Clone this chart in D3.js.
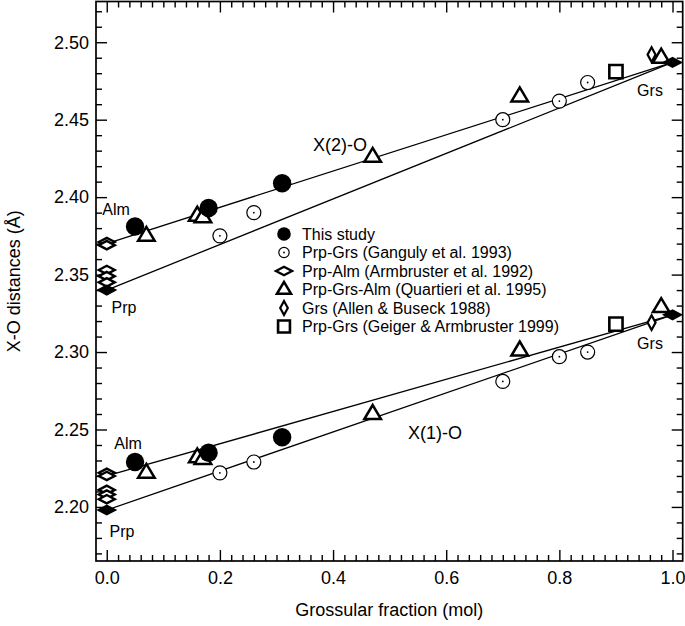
<!DOCTYPE html>
<html><head><meta charset="utf-8">
<script src="https://cdn.jsdelivr.net/npm/d3@7"></script>
<style>
body{margin:0;background:#fff}
svg{display:block}
text{font-family:"Liberation Sans",Arial,sans-serif;fill:#000}
</style>
</head><body>
<svg id="c" width="685" height="626"></svg>
<script>
// ---- tick labels ----
const xMajor = [0.0, 0.2, 0.4, 0.6, 0.8, 1.0];
const yMajor = [2.20, 2.25, 2.30, 2.35, 2.40, 2.45, 2.50];

// ---- series (x = grossular fraction, y = distance) ----
const thisStudyX  = [0.05, 0.18, 0.31];
const thisStudyX2 = [2.381, 2.393, 2.409];
const thisStudyX1 = [2.229, 2.235, 2.245];

const gangulyX  = [0.20, 0.26, 0.70, 0.80, 0.85];
const gangulyX2 = [2.375, 2.390, 2.450, 2.462, 2.474];
const gangulyX1 = [2.222, 2.229, 2.281, 2.297, 2.300];

const armbrusterX  = [0, 0, 0, 0, 0];
const armbrusterX2 = [2.371, 2.369, 2.353, 2.349, 2.345];
const armbrusterX1 = [2.222, 2.220, 2.211, 2.208, 2.205];

const quartieriX  = [0.07, 0.16, 0.17, 0.47, 0.73, 0.98];
const quartieriX2 = [2.375, 2.388, 2.387, 2.426, 2.465, 2.490];
const quartieriX1 = [2.222, 2.232, 2.231, 2.260, 2.301, 2.329];

const allenX  = [0.963];
const allenX2 = [2.492];
const allenX1 = [2.319];

const geigerX  = [0.90];
const geigerX2 = [2.481];
const geigerX1 = [2.318];

const endX  = [0, 1, 0, 1];            // Prp, Grs end-members
const endY  = [2.340, 2.487, 2.198, 2.324];

// fitted lines [x0,y0,x1,y1]
const lineX2upper = [0, 2.370, 1, 2.487];
const lineX2lower = [0, 2.340, 1, 2.487];
const lineX1upper = [0, 2.220, 1, 2.324];
const lineX1lower = [0, 2.198, 1, 2.324];

const legendLabels = [
  "This study",
  "Prp-Grs (Ganguly et al. 1993)",
  "Prp-Alm (Armbruster et al. 1992)",
  "Prp-Grs-Alm (Quartieri et al. 1995)",
  "Grs (Allen & Buseck 1988)",
  "Prp-Grs (Geiger & Armbruster 1999)"
];

// ---- layout ----
const L = 96, R = 682.7, T = 1.5, B = 561;
const svg = d3.select("#c");
const x = d3.scaleLinear().domain([-0.019, 1.018]).range([L, R]);
const y = d3.scaleLinear().domain([2.1651, 2.5263]).range([B, T]);

const xMinor = d3.range(0, 1.0001, 0.02).filter(v => xMajor.every(m => Math.abs(m - v) > 1e-6));
const yMinor = d3.range(2.17, 2.5255, 0.01).filter(v => yMajor.every(m => Math.abs(m - v) > 1e-6));

function axisG(axis, tx, ty) {
  const g = svg.append("g").attr("transform", `translate(${tx},${ty})`).call(axis);
  g.select(".domain").remove();
  g.selectAll("line").attr("stroke", "#000").attr("stroke-width", 1.4);
  g.selectAll("text").style("font-family", '"Liberation Sans",Arial,sans-serif').style("font-size", "18px").attr("fill", "#000");
  return g;
}
// bottom
axisG(d3.axisBottom(x).tickValues(xMajor).tickSize(-11).tickPadding(10).tickFormat(d3.format(".1f")), 0, B);
axisG(d3.axisBottom(x).tickValues(xMinor).tickSize(-6).tickFormat(""), 0, B);
// top
axisG(d3.axisTop(x).tickValues(xMajor).tickSize(-11).tickFormat(""), 0, T);
axisG(d3.axisTop(x).tickValues(xMinor).tickSize(-6).tickFormat(""), 0, T);
// left
axisG(d3.axisLeft(y).tickValues(yMajor).tickSize(-11).tickPadding(7).tickFormat(d3.format(".2f")), L, 0);
axisG(d3.axisLeft(y).tickValues(yMinor).tickSize(-6).tickFormat(""), L, 0);
// right
axisG(d3.axisRight(y).tickValues(yMajor).tickSize(-11).tickFormat(""), R, 0);
axisG(d3.axisRight(y).tickValues(yMinor).tickSize(-6).tickFormat(""), R, 0);

// frame
svg.append("rect").attr("x", L).attr("y", T).attr("width", R - L).attr("height", B - T)
  .attr("fill", "none").attr("stroke", "#000").attr("stroke-width", 1.7);

// axis titles
svg.append("text").attr("x", (L + R) / 2).attr("y", 616).attr("text-anchor", "middle")
  .style("font-size", "18px").text("Grossular fraction (mol)");
svg.append("text").attr("transform", `translate(20,${(T + B) / 2}) rotate(-90)`).attr("text-anchor", "middle")
  .style("font-size", "18px").text("X-O distances (Å)");

// lines
[lineX2upper, lineX2lower, lineX1upper, lineX1lower].forEach(l => {
  svg.append("line").attr("x1", x(l[0])).attr("y1", y(l[1])).attr("x2", x(l[2])).attr("y2", y(l[3]))
    .attr("stroke", "#000").attr("stroke-width", 1.3);
});

// marker shapes (local coordinates)
const shapes = {
  filledCircle: (s) => ({ type: "circle", r: 9.2 * s, fill: "#000", stroke: "none", sw: 0 }),
  openCircle: (s) => ({ type: "circle", r: 7 * s, fill: "#fff", stroke: "#000", sw: 1.2, dot: true }),
  wideDiamond: (s) => ({ type: "path", d: `M${-8*s},0L0,${-4.2*s}L${8*s},0L0,${4.2*s}Z`, fill: "#fff", stroke: "#000", sw: 2.4 }),
  filledDiamond: (s) => ({ type: "path", d: `M${-8*s},0L0,${-4.2*s}L${8*s},0L0,${4.2*s}Z`, fill: "#000", stroke: "#000", sw: 2.4 }),
  triangle: (s) => ({ type: "path", d: `M${-8.3*s},${5*s}L0,${-9*s}L${8.3*s},${5*s}Z`, fill: "#fff", stroke: "#000", sw: 2.5 }),
  tallDiamond: (s) => ({ type: "path", d: `M${-4*s},0L0,${-7.3*s}L${4*s},0L0,${7.3*s}Z`, fill: "#fff", stroke: "#000", sw: 2.2 }),
  square: (s) => ({ type: "path", d: `M${-6.6*s},${-6.6*s}H${6.6*s}V${6.6*s}H${-6.6*s}Z`, fill: "#fff", stroke: "#000", sw: 2.6 })
};

function drawMarker(kind, px, py, s) {
  const m = shapes[kind](s);
  const g = svg.append("g").attr("transform", `translate(${px},${py})`);
  if (m.type === "circle") {
    g.append("circle").attr("r", m.r).attr("fill", m.fill).attr("stroke", m.stroke).attr("stroke-width", m.sw);
    if (m.dot) g.append("circle").attr("r", 0.9).attr("fill", "#000");
  } else {
    g.append("path").attr("d", m.d).attr("fill", m.fill).attr("stroke", m.stroke)
      .attr("stroke-width", m.sw).attr("stroke-linejoin", "miter");
  }
}

function series(kind, xs, ys) {
  xs.forEach((v, i) => drawMarker(kind, x(v), y(ys[i]), 1));
}

series("wideDiamond", armbrusterX, armbrusterX2);
series("wideDiamond", armbrusterX, armbrusterX1);
series("openCircle", gangulyX, gangulyX2);
series("openCircle", gangulyX, gangulyX1);
series("triangle", quartieriX, quartieriX2);
series("triangle", quartieriX, quartieriX1);
series("square", geigerX, geigerX2);
series("square", geigerX, geigerX1);
series("tallDiamond", allenX, allenX2);
series("tallDiamond", allenX, allenX1);
series("filledCircle", thisStudyX, thisStudyX2);
series("filledCircle", thisStudyX, thisStudyX1);
series("filledDiamond", endX, endY);

// annotations
function label(t, px, py, size) {
  svg.append("text").attr("x", px).attr("y", py).attr("dy", "0.35em").attr("text-anchor", "middle")
    .style("font-size", size + "px").text(t);
}
label("X(2)-O", 340, 145, 18);
label("X(1)-O", 435, 433, 18);
label("Alm", 116, 209, 16);
label("Alm", 128, 443, 16);
label("Prp", 124, 307, 16);
label("Prp", 122, 531, 16);
label("Grs", 650, 90, 16);
label("Grs", 650, 343, 16);

// legend
const legendKinds = ["filledCircle", "openCircle", "wideDiamond", "triangle", "tallDiamond", "square"];
const legendScale = [0.74, 0.74, 1.0, 0.85, 0.95, 0.9];
legendLabels.forEach((t, i) => {
  const ly = 234 + i * 18.5;
  drawMarker(legendKinds[i], 284, ly, legendScale[i]);
  svg.append("text").attr("x", 302).attr("y", ly).attr("dy", "0.36em").style("font-size", "16px").text(t);
});
</script>
</body></html>
